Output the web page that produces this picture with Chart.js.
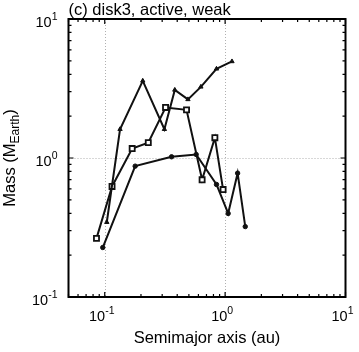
<!DOCTYPE html>
<html>
<head>
<meta charset="utf-8">
<script src="https://cdn.jsdelivr.net/npm/chart.js@4/dist/chart.umd.min.js"></script>
<style>
  html, body { margin: 0; padding: 0; background: #fff; }
  #wrap { width: 359px; height: 352px; position: relative; }
</style>
</head>
<body>
<div id="wrap"><canvas id="massChart"></canvas></div>
<script>
// semimajor axis (au) and mass (M_Earth) for each run
var triAxis = [0.104, 0.134, 0.207, 0.313, 0.382, 0.491, 0.629, 0.848, 1.14];
var triMass = [0.345, 1.61, 3.59, 1.61, 3.09, 2.64, 3.25, 4.38, 4.95];

var sqAxis = [0.0854, 0.115, 0.169, 0.230, 0.320, 0.478, 0.644, 0.822, 0.962];
var sqMass = [0.264, 0.624, 1.17, 1.29, 2.31, 2.22, 0.697, 1.40, 0.593];

var dotAxis = [0.0963, 0.179, 0.359, 0.575, 0.848, 1.06, 1.27, 1.47];
var dotMass = [0.227, 0.874, 1.02, 1.06, 0.645, 0.399, 0.778, 0.321];

var xDecades = [-1, 0, 1];
var yDecades = [-1, 0, 1];
var xGrid = [0.1, 1];
var yGrid = [1];

var titleText = '(c) disk3, active, weak';
var xTitle = 'Semimajor axis (au)';

function pairs(xs, ys)
{
  var out = [];
  for (var i = 0; i < xs.length; i++) out.push({ x: xs[i], y: ys[i] });
  return out;
}

var FONT = '"Liberation Sans", Arial, sans-serif';

// gridlines, frame, inward ticks and superscript labels
var framePlugin =
{
  id: 'frame',
  beforeDatasetsDraw: function(chart)
  {
    var ctx = chart.ctx, a = chart.chartArea;
    var xs = chart.scales.x, ys = chart.scales.y;
    ctx.save();
    ctx.strokeStyle = '#b0b0b0';
    ctx.lineWidth = 1;
    ctx.setLineDash([1, 2]);
    xGrid.forEach(function(v)
    {
      var px = Math.round(xs.getPixelForValue(v)) + 0.5;
      ctx.beginPath(); ctx.moveTo(px, a.top); ctx.lineTo(px, a.bottom); ctx.stroke();
    });
    yGrid.forEach(function(v)
    {
      var py = Math.round(ys.getPixelForValue(v)) + 0.5;
      ctx.beginPath(); ctx.moveTo(a.left, py); ctx.lineTo(a.right, py); ctx.stroke();
    });
    ctx.restore();
  },
  afterDraw: function(chart)
  {
    var ctx = chart.ctx, a = chart.chartArea;
    var xs = chart.scales.x, ys = chart.scales.y;
    ctx.save();
    ctx.strokeStyle = '#000';
    ctx.fillStyle = '#000';

    // ticks
    ctx.lineWidth = 1.2;
    for (var d = -2; d <= 1; d++)
    {
      for (var m = 1; m <= 9; m++)
      {
        var v = m * Math.pow(10, d);
        var len = (m == 1) ? 5 : 3;
        if (v >= 0.05 && v <= 10)
        {
          var px = xs.getPixelForValue(v);
          ctx.beginPath();
          ctx.moveTo(px, a.bottom); ctx.lineTo(px, a.bottom - len);
          ctx.moveTo(px, a.top); ctx.lineTo(px, a.top + len);
          ctx.stroke();
        }
        if (v >= 0.1 && v <= 10)
        {
          var py = ys.getPixelForValue(v);
          ctx.beginPath();
          ctx.moveTo(a.left, py); ctx.lineTo(a.left + len, py);
          ctx.moveTo(a.right, py); ctx.lineTo(a.right - len, py);
          ctx.stroke();
        }
      }
    }

    // frame
    ctx.lineWidth = 2;
    ctx.strokeRect(a.left, a.top, a.right - a.left, a.bottom - a.top);

    // tick labels
    function power(x, y, exp, align)
    {
      ctx.font = '14.5px ' + FONT;
      var w1 = ctx.measureText('10').width;
      ctx.font = '10.5px ' + FONT;
      var w2 = ctx.measureText(exp).width;
      var left = (align == 'right') ? x - w1 - w2 : x - (w1 + w2) / 2;
      ctx.textAlign = 'left';
      ctx.textBaseline = 'alphabetic';
      ctx.font = '14.5px ' + FONT;
      ctx.fillText('10', left, y);
      ctx.font = '10.5px ' + FONT;
      ctx.fillText(exp, left + w1, y - 7);
    }
    xDecades.forEach(function(e)
    {
      var px = xs.getPixelForValue(Math.pow(10, e));
      power(px - 3, a.bottom + 24, String(e), 'center');
    });
    yDecades.forEach(function(e)
    {
      var py = ys.getPixelForValue(Math.pow(10, e));
      power(a.left - 11, py + 7.5, String(e), 'right');
    });

    // titles
    ctx.font = '16.5px ' + FONT;
    ctx.textAlign = 'left';
    ctx.fillText(titleText, a.left, 15);

    ctx.textAlign = 'center';
    ctx.fillText(xTitle, (a.left + a.right) / 2, 343);

    // y title with subscript
    ctx.save();
    ctx.translate(15, (a.top + a.bottom) / 2);
    ctx.rotate(-Math.PI / 2);
    ctx.font = '16.5px ' + FONT;
    var p1 = 'Mass (M', p3 = ')';
    var w1 = ctx.measureText(p1).width, w3 = ctx.measureText(p3).width;
    ctx.font = '12px ' + FONT;
    var w2 = ctx.measureText('Earth').width;
    var start = -(w1 + w2 + w3) / 2;
    ctx.textAlign = 'left';
    ctx.font = '16.5px ' + FONT;
    ctx.fillText(p1, start, 0);
    ctx.font = '12px ' + FONT;
    ctx.fillText('Earth', start + w1, 4);
    ctx.font = '16.5px ' + FONT;
    ctx.fillText(p3, start + w1 + w2, 0);
    ctx.restore();

    ctx.restore();
  }
};

var lineColor = '#111';

var massChart = new Chart(document.getElementById('massChart').getContext('2d'),
{
  type: 'scatter',
  data:
  {
    datasets:
    [
      {
        label: 'triangles',
        data: pairs(triAxis, triMass),
        showLine: true,
        borderColor: lineColor,
        borderWidth: 2,
        pointStyle: 'triangle',
        pointRadius: 2.5,
        pointBackgroundColor: lineColor,
        pointBorderColor: lineColor,
        pointBorderWidth: 1
      },
      {
        label: 'squares',
        data: pairs(sqAxis, sqMass),
        showLine: true,
        borderColor: lineColor,
        borderWidth: 2,
        pointStyle: 'rect',
        pointRadius: 3.6,
        pointBackgroundColor: '#fff',
        pointBorderColor: lineColor,
        pointBorderWidth: 1.8
      },
      {
        label: 'dots',
        data: pairs(dotAxis, dotMass),
        showLine: true,
        borderColor: lineColor,
        borderWidth: 2,
        pointStyle: 'circle',
        pointRadius: 2.2,
        pointBackgroundColor: lineColor,
        pointBorderColor: lineColor,
        pointBorderWidth: 1
      }
    ]
  },
  options:
  {
    responsive: true,
    maintainAspectRatio: false,
    animation: false,
    layout: { padding: { left: 68.5, top: 19, right: 13.5, bottom: 55 } },
    plugins: { legend: { display: false }, tooltip: { enabled: false } },
    scales:
    {
      x: { type: 'logarithmic', min: 0.05, max: 10, display: false },
      y: { type: 'logarithmic', min: 0.1, max: 10, display: false }
    }
  },
  plugins: [framePlugin]
});
</script>
</body>
</html>
